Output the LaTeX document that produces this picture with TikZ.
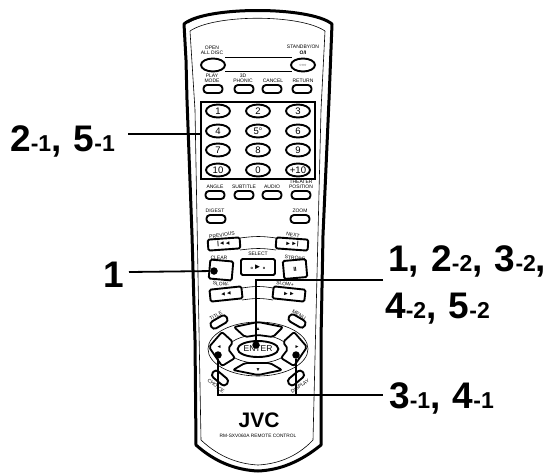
\documentclass[tikz,border=0pt]{standalone}
\usepackage{fontspec}
\setmainfont{Liberation Sans}
\usetikzlibrary{shapes.geometric}
\newcommand{\bigN}[1]{{\fontsize{37}{37}\selectfont\bfseries #1}}
\newcommand{\smN}[1]{{\fontsize{23}{23}\selectfont\bfseries #1}}
\tikzset{
 x=1pt,y=-1pt,
 shell/.style={line width=3pt,line join=round},
 thin line/.style={line width=0.6pt},
 oval/.style={draw,ellipse,line width=1.9pt,inner sep=0pt,minimum width=24pt,minimum height=13pt,font=\fontsize{9.5}{9.5}\selectfont},
 pill/.style={draw,rounded corners=3.5pt,line width=1.9pt,inner sep=0pt,minimum width=19pt,minimum height=8pt},
 key/.style={draw,rounded corners=1.5pt,line width=1.9pt,inner sep=0pt,font=\fontsize{6}{6}\selectfont\bfseries},
 tiny/.style={font=\fontsize{5}{5.2}\selectfont,inner sep=0pt,align=center},
 lead/.style={line width=1.8pt},
 dot/.style={circle,fill=black,inner sep=0pt,minimum size=7.5pt},
 biglabel/.style={inner sep=0pt,anchor=base west},
 seg/.style={draw,line width=1.8pt,rounded corners=2pt,line join=round,fill=white},
}
\begin{document}
\begin{tikzpicture}
\useasboundingbox (0,0) rectangle (556,472);
% shell
\draw[shell] (186,60) -- (184,24) .. controls (205,6) and (310,6) .. (332,24) -- (329,100) -- (323,235) -- (321,340) -- (321,445)
  .. controls (300,462) and (280,470) .. (258,471) .. controls (236,470) and (215,462) .. (196,445) -- (195,340) -- (192,235) -- (187,100) -- cycle;
\draw[thin line] (188,23) .. controls (215,6) and (305,6) .. (329,23);
\draw[thin line] (190,31) .. controls (215,14) and (300,14) .. (325,31);
\draw[thin line] (190,31) -- (195,110) -- (201,440) .. controls (220,458) and (240,464) .. (258,465) .. controls (276,464) and (296,458) .. (313,440) -- (321,110) -- (325,31);
% top row
\node[oval] (open) at (213,65) {};
\node[oval] (standby) at (303,65) {\fontsize{4}{4}\selectfont ○○○};
\draw[thin line] (225,57) -- (292,57) (225,71) -- (292,71);
\node[tiny] (topenl) at (212,50) {OPEN\\ALL DISC};
\node[tiny] (tstandby) at (303,50) {STANDBY/ON\\[0.5pt]\bfseries O/I};
\node[pill] (play) at (213,89) {};
\node[pill] (phonic) at (244,89) {};
\node[pill] (cancel) at (272,89) {};
\node[pill] (return) at (302,89) {};
\node[tiny] (tplay) at (212,78) {PLAY\\MODE};
\node[tiny] (tphonic) at (243,78) {3D\\PHONIC};
\node[tiny] (tcancel) at (273,81) {CANCEL};
\node[tiny] (treturn) at (303,81) {RETURN};
% keypad
\draw[line width=2.2pt] (201,102) rectangle (315,179);
\coordinate (padleft) at (201,134);
\foreach \n/\t/\x/\y in {k1/1/218/111,k2/2/258/111,k3/3/298/111,k4/4/218/131,k5/5\textsuperscript{\tiny{o}}/258/131,k6/6/298/131,k7/7/218/150,k8/8/258/150,k9/9/298/150,k10/10/218/170,k0/0/258/170,kp/+10/298/170}
  \node[oval] (\n) at (\x,\y) {\t};
% row 2
\node[pill] (angle) at (215,195) {};
\node[pill] (subtitle) at (244,195) {};
\node[pill] (audio) at (272,195) {};
\node[pill] (theater) at (301,195) {};
\node[tiny] (tangle) at (215,187) {ANGLE};
\node[tiny] (tsubtitle) at (244,187) {SUBTITLE};
\node[tiny] (taudio) at (272,187) {AUDIO};
\node[tiny] (ttheater) at (301,184) {THEATER\\POSITION};
\node[pill] (digest) at (216,219) {};
\node[pill] (zoom) at (300,219) {};
\node[tiny] (tdigest) at (215,211) {DIGEST};
\node[tiny] (tzoom) at (300,211) {ZOOM};
% transport
\draw[thin line] (240,238) .. controls (255,236) and (262,236) .. (276,238);
\draw[thin line] (240,250) .. controls (255,248) and (262,248) .. (276,250);
\draw[thin line] (242,288) .. controls (255,286) and (262,286) .. (273,288);
\draw[thin line] (242,300) .. controls (255,298) and (262,298) .. (273,300);
\node[key,minimum width=32pt,minimum height=11pt,rotate=4] (prev) at (224,244) {|◄◄};
\node[key,minimum width=32pt,minimum height=11pt,rotate=-4] (next) at (292,244) {►►|};
\node[tiny,rotate=8] (tprev) at (222,235) {PREVIOUS};
\node[tiny,rotate=-8] (tnext) at (293,235) {NEXT};
\node[key,minimum width=23pt,minimum height=19pt,rotate=-5] (clear) at (221,270) {};
\node[key,minimum width=34pt,minimum height=16pt] (sel) at (258,267) {\fontsize{4}{4}\selectfont o\,\fontsize{8}{8}\selectfont►\,\fontsize{4}{4}\selectfont o};
\node[key,minimum width=23pt,minimum height=18pt,rotate=5] (stop) at (295,269) {II};
\node[tiny,rotate=-3] (tclear) at (219,258) {CLEAR};
\node[tiny] (tsel) at (258,254) {SELECT};
\node[tiny,rotate=-5] (tstop) at (295,258) {STROBE};
\node[key,minimum width=32pt,minimum height=12pt,rotate=6] (slowm) at (226,294) {◄◄};
\node[key,minimum width=32pt,minimum height=12pt,rotate=-6] (slowp) at (289,294) {►►};
\node[tiny,rotate=-8] (tslowm) at (221,284) {SLOW-};
\node[tiny,rotate=-8] (tslowp) at (285,284) {SLOW+};
\node[pill,minimum width=18pt,rotate=30] (title) at (219,322) {};
\node[pill,minimum width=18pt,rotate=-30] (menu) at (297,321) {};
\node[tiny,rotate=30] (ttitle) at (216,316) {TITLE};
\node[tiny,rotate=-30] (tmenu) at (299,315) {MENU};
% d-pad
\draw[line width=0.6pt] (258,349) ellipse [x radius=50,y radius=27];
\draw[thin line] (258,349) ellipse [x radius=30,y radius=14];
\draw[seg] (234,327) -- (258,322) -- (283,327) -- (273,337) -- (258,335) -- (245,337) -- cycle;
\draw[seg] (233,370) -- (245,363) -- (270,363) -- (282,370) -- (258,375) -- cycle;
\draw[seg] (209,347) -- (222,332) -- (233,342) -- (228,349) -- (235,358) -- (222,366) -- cycle;
\draw[seg] (307,347) -- (294,332) -- (283,342) -- (288,349) -- (281,358) -- (294,366) -- cycle;
\node[oval,minimum width=40pt,minimum height=16pt,font=\fontsize{8.5}{8.5}\selectfont] (enter) at (258,349) {ENTER};
\node[inner sep=0pt,font=\fontsize{5}{5}\selectfont] (aup) at (258,329) {▲};
\node[inner sep=0pt,font=\fontsize{5}{5}\selectfont] (adown) at (258,370) {▼};
\node[inner sep=0pt,font=\fontsize{5}{5}\selectfont] (aleft) at (219,347) {◄};
\node[inner sep=0pt,font=\fontsize{5}{5}\selectfont] (aright) at (297,347) {►};
\node[pill,minimum width=18pt,rotate=-40] (choice) at (220,378) {};
\node[pill,minimum width=18pt,rotate=40] (display) at (296,378) {};
\node[tiny,rotate=-35] (tchoice) at (216,386) {CHOICE};
\node[tiny,rotate=35] (tdisplay) at (300,386) {DISPLAY};
% brand
\node[inner sep=0pt,font=\fontsize{21}{21}\selectfont\bfseries] (jvc) at (259,420) {JVC};
\node[tiny,font=\fontsize{4.8}{5}\selectfont] (model) at (258,436) {RM-SXV060A REMOTE CONTROL};
% dots
\node[dot] (dclear) at (214,271) {};
\node[dot] (denter) at (256,345) {};
\node[dot] (dleft) at (218,355) {};
\node[dot] (dright) at (296,355) {};
% labels
\node[biglabel] (la) at (10,151) {\bigN{2}\smN{-1}\bigN{,\hspace{2pt} 5}\smN{-1}};
\node[biglabel] (lb) at (103,287) {\bigN{1}};
\node[biglabel] (lc) at (388,271) {\bigN{1,\hspace{2pt} 2}\smN{-2}\bigN{,\hspace{2pt} 3}\smN{-2}\bigN{,}};
\node[biglabel] (ld) at (385,318) {\bigN{4}\smN{-2}\bigN{,\hspace{2pt} 5}\smN{-2}};
\node[biglabel] (le) at (389,408) {\bigN{3}\smN{-1}\bigN{,\hspace{2pt} 4}\smN{-1}};
% connectors
\coordinate (c1) at (128,134);
\coordinate (c2) at (129,272);
\coordinate (c3) at (383,280);
\coordinate (c4) at (383,395);
\coordinate (j1) at (256,280);
\coordinate (j2) at (218,395);
\coordinate (j3) at (296,395);
\draw[lead] (c1) -- (padleft);
\draw[lead] (c2) -- (dclear);
\draw[lead] (c3) -- (j1) -- (denter);
\draw[lead] (dleft) -- (j2) -- (c4);
\draw[lead] (dright) -- (j3);
\end{tikzpicture}
\end{document}
